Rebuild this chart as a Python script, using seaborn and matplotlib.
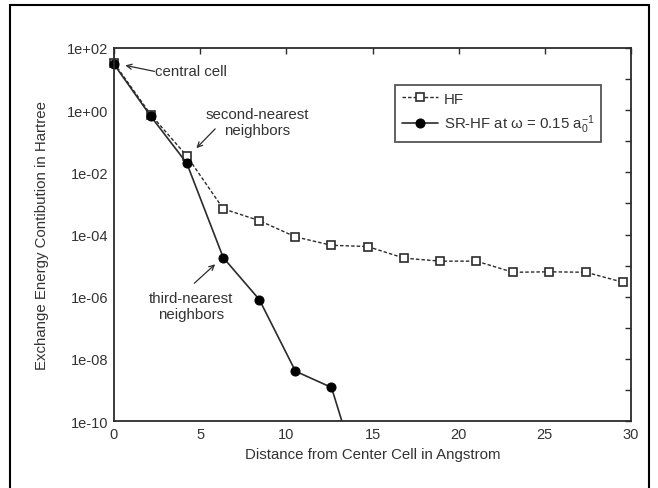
import pandas as pd
import matplotlib
matplotlib.use("Agg")
import matplotlib.pyplot as plt
import seaborn as sns
from matplotlib.ticker import FixedLocator, FixedFormatter, NullFormatter
from matplotlib.patches import Rectangle
from matplotlib.transforms import Bbox, TransformedBbox

# distance of each shell of cells from the central cell (Angstrom)
distance = [0.0, 2.14, 4.22, 6.34, 8.43, 10.53, 12.62, 14.72,
            16.84, 18.94, 21.03, 23.15, 25.27, 27.39, 29.54]

# exchange energy contribution (Hartree)
hf = [33, 0.71, 0.034, 6.7e-4, 2.8e-4, 8.4e-5, 4.5e-5, 4.1e-5,
      1.73e-5, 1.39e-5, 1.39e-5, 6.1e-6, 6.3e-6, 6.1e-6, 2.9e-6]
sr_hf = [30, 0.63, 0.0198, 1.8e-5, 8.1e-7, 4.0e-9, 1.2e-9, 2e-13]

y_ticks = [1e2, 1e0, 1e-2, 1e-4, 1e-6, 1e-8, 1e-10]
y_tick_labels = ["1e+02", "1e+00", "1e-02", "1e-04", "1e-06", "1e-08", "1e-10"]
y_minor = [1e1, 1e-1, 1e-3, 1e-5, 1e-7, 1e-9]
x_ticks = [0, 5, 10, 15, 20, 25, 30]

hf_df = pd.DataFrame({"distance": distance, "energy": hf})
sr_df = pd.DataFrame({"distance": distance[:len(sr_hf)], "energy": sr_hf})

sns.set_style("white")
plt.rcParams["font.family"] = ["Liberation Sans", "DejaVu Sans"]
plt.rcParams["mathtext.fontset"] = "custom"
plt.rcParams["mathtext.rm"] = "Liberation Sans"
plt.rcParams["mathtext.it"] = "Liberation Sans"

ink = "#2b2b2b"
text_c = "#333333"

fig = plt.figure(figsize=(6.58, 4.89), dpi=100)
ax = fig.add_axes([114 / 658, 1 - 422 / 489, 517 / 658, 373 / 489])

sns.lineplot(data=hf_df, x="distance", y="energy", ax=ax, color=ink,
             linestyle=(0, (2.5, 1.5)), linewidth=1.0, marker="s",
             markersize=6, markerfacecolor="white", markeredgecolor=ink,
             markeredgewidth=1.2, label="HF")
sns.lineplot(data=sr_df, x="distance", y="energy", ax=ax, color=ink,
             linestyle="-", linewidth=1.2, marker="o", markersize=6.5,
             markerfacecolor="black", markeredgecolor="black",
             label=r"SR-HF at $\omega$ = 0.15 a$_0^{-1}$")

# let markers spill over the left/top spines, but keep clipping at the bottom
clip = TransformedBbox(Bbox([[-0.05, 0.0], [1.05, 1.05]]), ax.transAxes)
for line in ax.lines:
    line.set_clip_box(clip)

ax.set_yscale("log")
ax.set_xlim(0, 30)
ax.set_ylim(1e-10, 1e2)
ax.yaxis.set_major_locator(FixedLocator(y_ticks))
ax.yaxis.set_major_formatter(FixedFormatter(y_tick_labels))
ax.yaxis.set_minor_locator(FixedLocator(y_minor))
ax.yaxis.set_minor_formatter(NullFormatter())
ax.xaxis.set_major_locator(FixedLocator(x_ticks))
ax.tick_params(which="both", direction="in", top=True, right=True,
               length=4, width=1, color=ink, labelsize=10.5,
               labelcolor=text_c, pad=4)
for s in ax.spines.values():
    s.set_color(ink)
    s.set_linewidth(1.3)

ax.set_xlabel("Distance from Center Cell in Angstrom", fontsize=10.8,
              color=text_c, labelpad=5)
ax.set_ylabel("Exchange Energy Contibution in Hartree", fontsize=10.8,
              color=text_c, labelpad=13)

arrow = dict(arrowstyle="->", color=ink, lw=0.9, shrinkA=0, shrinkB=0,
             mutation_scale=9)
ax.annotate("", xy=(0.66, 27.5), xytext=(2.35, 17.7), arrowprops=arrow)
ax.text(2.4, 17.7, "central cell", ha="left", va="center",
        fontsize=10.8, color=text_c)
ax.annotate("", xy=(4.78, 0.06), xytext=(5.87, 0.25), arrowprops=arrow)
ax.text(8.31, 0.42, "second-nearest\nneighbors", ha="center",
        va="center", fontsize=10.8, color=text_c, linespacing=1.15)
ax.annotate("", xy=(5.87, 1.1e-5), xytext=(4.66, 2.7e-6), arrowprops=arrow)
ax.text(4.48, 4.9e-7, "third-nearest\nneighbors", ha="center",
        va="center", fontsize=10.8, color=text_c, linespacing=1.15)

leg = ax.legend(loc="upper left", bbox_to_anchor=(0.5435, 0.901),
                borderaxespad=0, fontsize=10.8, frameon=True,
                fancybox=False, edgecolor=ink, handlelength=2.4,
                borderpad=0.45, labelspacing=0.45, handletextpad=0.4)
leg.get_frame().set_linewidth(1.3)
for t in leg.get_texts():
    t.set_color(text_c)

# outer frame around the figure
fig.patches.append(Rectangle((10 / 658, -0.05), 639 / 658, 1.05 - 6 / 489,
                             transform=fig.transFigure, fill=False,
                             edgecolor="black", linewidth=1.5))

fig.savefig("out.png", dpi=100)
